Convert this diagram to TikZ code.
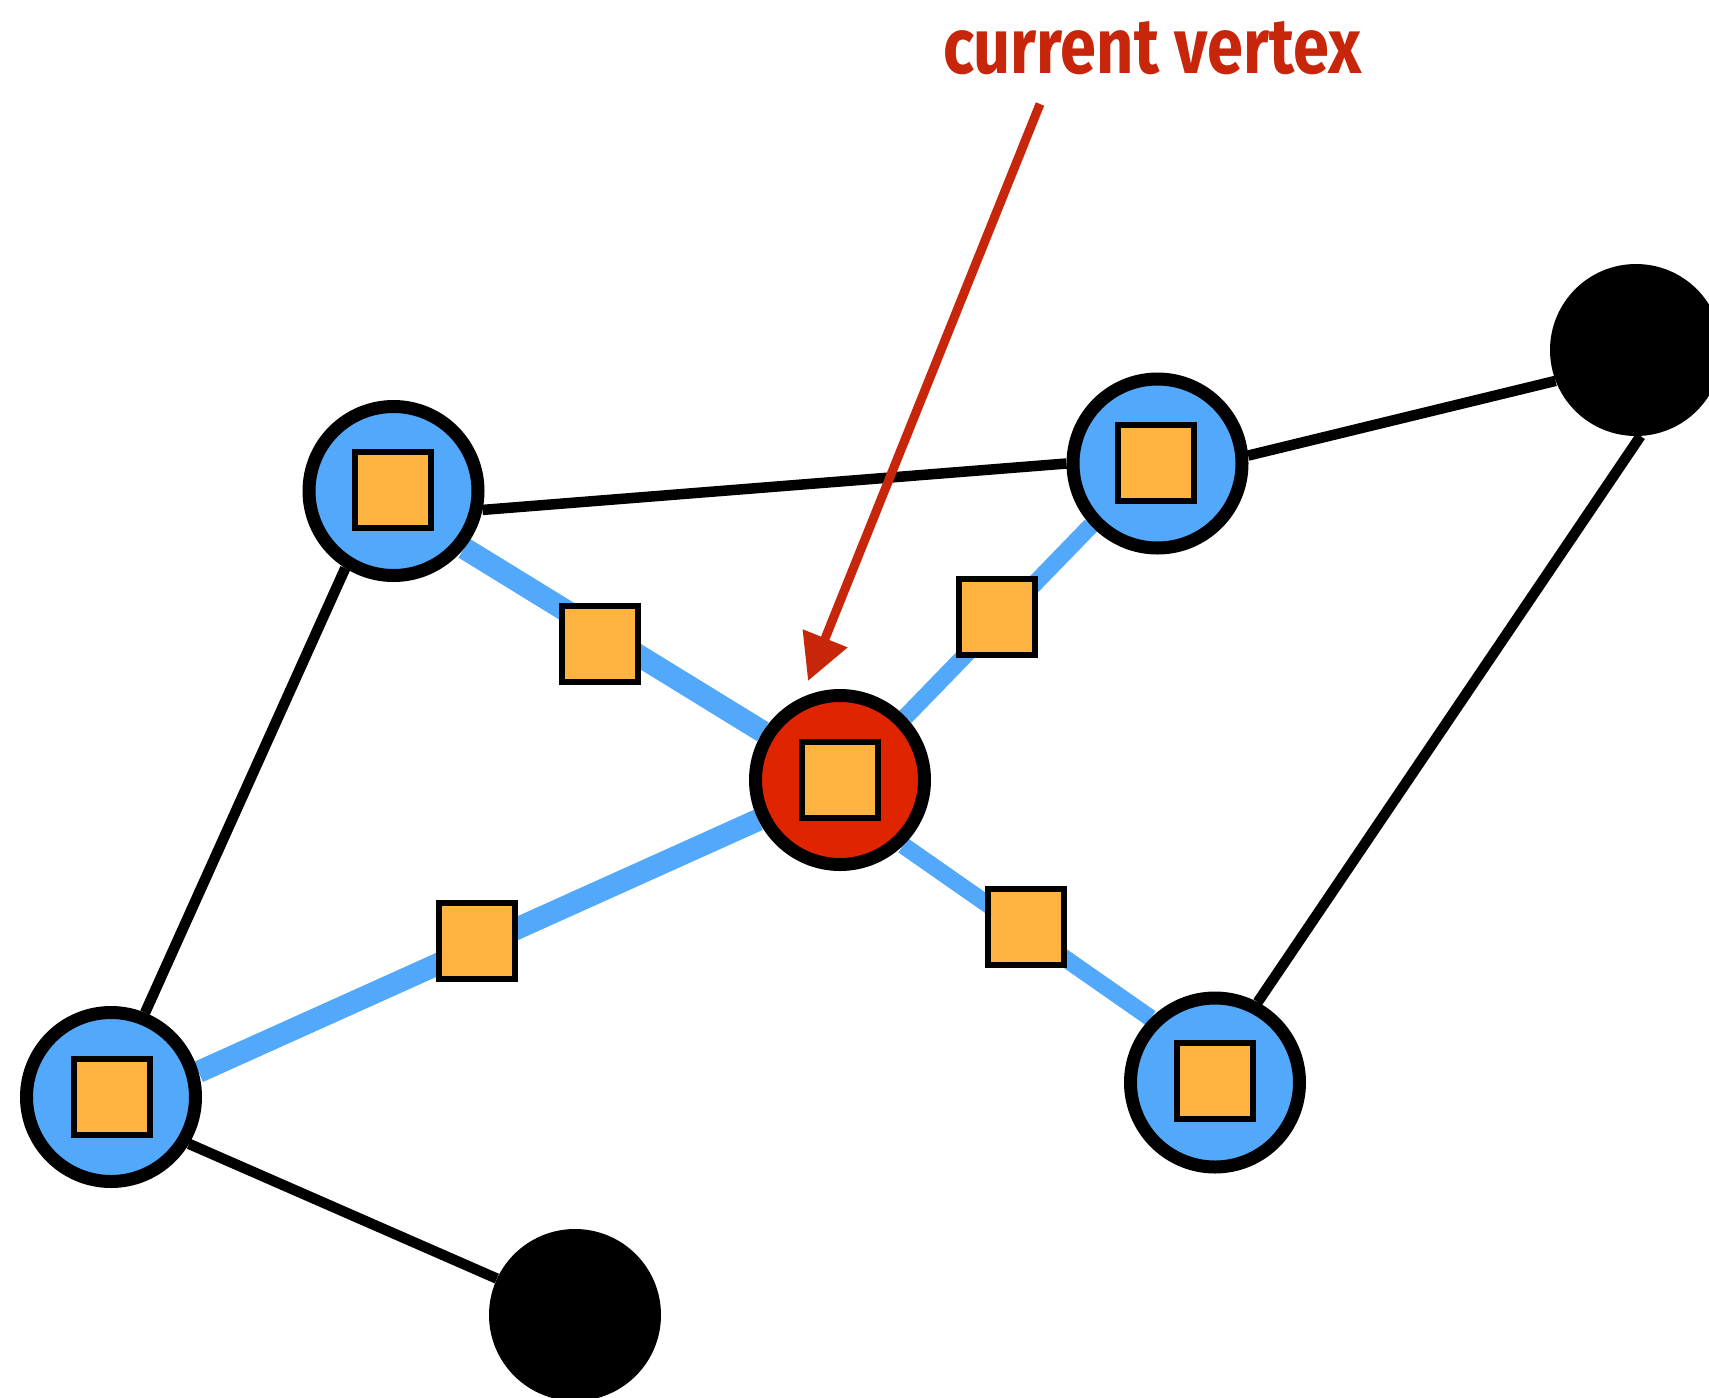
\documentclass[tikz,border=0pt]{standalone}
\usepackage{fontspec}
\setmainfont{Fira Sans}
\usetikzlibrary{arrows.meta,backgrounds}
\definecolor{vblue}{RGB}{82,168,250}
\definecolor{vorange}{RGB}{255,179,64}
\definecolor{vred}{RGB}{224,36,0}
\definecolor{lred}{RGB}{200,38,10}
\tikzset{
  vtx/.style={circle,draw=black,line width=13pt,fill=vblue,minimum size=169pt,inner sep=0pt},
  curvtx/.style={vtx,fill=vred},
  blackvtx/.style={circle,fill=black,minimum size=172pt,inner sep=0pt},
  datbox/.style={rectangle,draw=black,line width=6pt,fill=vorange,minimum size=76pt,inner sep=0pt},
  blueedge/.style={vblue,line width=22pt},
  thinblueedge/.style={vblue,line width=17pt},
  blackedge/.style={black,line width=10.5pt},
  pointer/.style={lred,line width=9pt,-{Triangle[length=46pt,width=46pt]}}
}
\begin{document}
\begin{tikzpicture}[x=1pt,y=-1pt]
\useasboundingbox (0,0) rectangle (1709,1398);
% vertices
\node[curvtx] (c) at (840,780) {};
\node[vtx] (tl) at (393.5,491) {};
\node[vtx] (tr) at (1157.5,463.5) {};
\node[vtx] (bl) at (111,1097) {};
\node[vtx] (br) at (1215,1082.5) {};
\node[blackvtx] (kt) at (1636,350) {};
\node[blackvtx] (kb) at (575,1315) {};
% vertex data
\node[datbox] (cq) at (840,780) {};
\node[datbox] (tlq) at (393,490) {};
\node[datbox] (trq) at (1156,463) {};
\node[datbox] (blq) at (112,1097) {};
\node[datbox] (brq) at (1214.5,1081) {};
% edges
\begin{pgfonlayer}{background}
\draw[blueedge] (c.148.3) -- (tl.-39.4);
\draw[thinblueedge] (c.44.1) -- (tr.-137.5);
\draw[blueedge] (c.206.3) -- (bl.16.4);
\draw[thinblueedge] (c.-46.6) -- (br.135.8);
\draw[blackedge] (tl.-12.3) -- (tr.180);
\draw[blackedge] (tr.5.3) -- (kt.201.6);
\draw[blackedge] (kt.-87) -- (br.62);
\draw[blackedge] (tl.-122.5) -- (bl.68.2);
\draw[blackedge] (bl.-31.2) -- (kb.155.9);
\end{pgfonlayer}
% edge data
\node[datbox] (e1) at (600,644) {};
\node[datbox] (e2) at (997,617) {};
\node[datbox] (e3) at (477,940.5) {};
\node[datbox] (e4) at (1026,927) {};
% label and pointer
\node[anchor=base west,inner sep=0pt,text=lred] (lab) at (943,73)
  {\resizebox{418pt}{52pt}{\bfseries current vertex}};
\coordinate (ps) at (1040,104);
\coordinate (pe) at (808,681);
\draw[pointer] (ps) -- (pe);
\end{tikzpicture}
\end{document}
